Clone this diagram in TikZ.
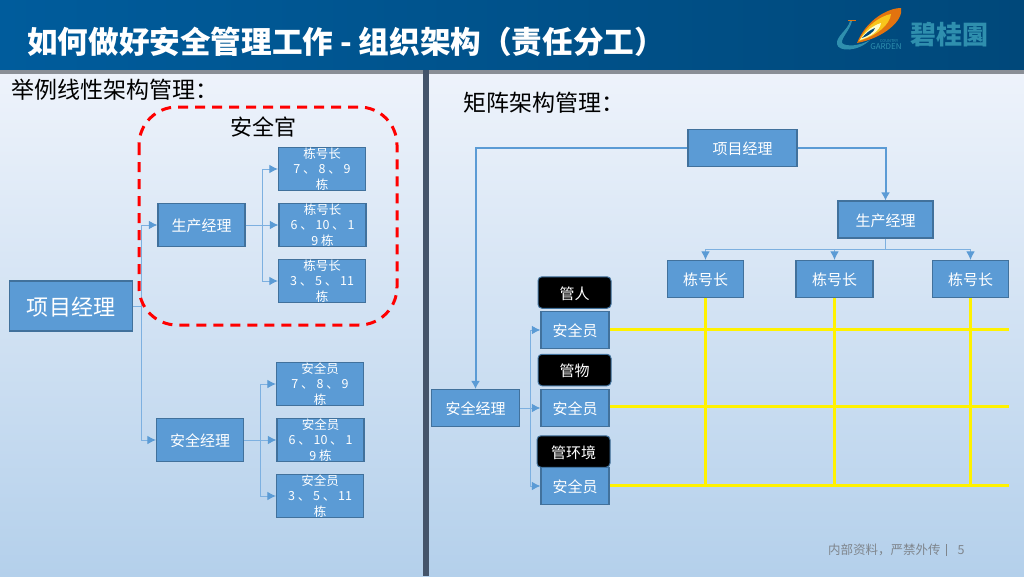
\documentclass[tikz,border=0pt]{standalone}
\usepackage{fontspec}
\usepackage{xcolor}
\setmainfont{Noto Sans CJK SC}
\usetikzlibrary{arrows.meta}
\definecolor{boxblue}{HTML}{5B9BD5}
\definecolor{boxedge}{HTML}{41719C}
\definecolor{thinblue}{HTML}{7DB0E0}
\definecolor{logoteal}{HTML}{2F8FAE}
\definecolor{bgtop}{HTML}{EEF3FB}
\definecolor{bgbottom}{HTML}{B4D0EB}
\definecolor{headleft}{HTML}{005C9C}
\definecolor{headright}{HTML}{00487A}
\definecolor{barcolor}{HTML}{8A8F96}
\definecolor{dividercolor}{HTML}{44546A}
\definecolor{flameorange}{HTML}{E2730F}
\definecolor{flameyellow}{HTML}{F8C51C}
\definecolor{footgray}{HTML}{7F858C}

\begin{document}
\begin{tikzpicture}[x=1pt, y=-1pt,
    box/.style={draw=boxedge, line width=1.1pt, fill=boxblue, text=white, inner sep=0pt, align=center, font=\fontsize{15}{18}\selectfont},
    smallbox/.style={box, minimum width=87pt, minimum height=43pt, font=\fontsize{12.5}{15.5}\selectfont},
    midbox/.style={box, minimum width=87pt, minimum height=43pt, text height=14.5pt},
    rbox/.style={box, minimum height=37pt, text height=14.5pt},
    blackbox/.style={draw=boxedge, line width=1pt, fill=black, text=white, rounded corners=4pt, minimum width=73pt, minimum height=31.5pt, inner sep=0pt, text height=14.5pt, font=\fontsize{15}{18}\selectfont},
    thinline/.style={draw=thinblue, line width=1pt},
    thinarrow/.style={thinline, -{Latex[length=8.5pt,width=8.5pt,color=boxblue]}},
    thickarrow/.style={draw=boxblue, line width=2pt, -{Latex[length=8pt,width=9pt]}},
    yellowline/.style={draw=yellow, line width=3.3pt},
    heading/.style={anchor=west, inner sep=0pt, font=\fontsize{23}{26}\selectfont}
]
\useasboundingbox (0,0) rectangle (1024,576);

% Background and header
\shade[top color=bgtop, bottom color=bgbottom] (0,72) rectangle (1024,576);
\shade[left color=headleft, right color=headright] (0,0) rectangle (1024,71);
\fill[barcolor] (0,70) rectangle (1024,74);
\fill[dividercolor] (423,70) rectangle (429,576);

% Title
\node[anchor=west, inner sep=0pt, text=white, font=\fontsize{30.6}{33}\selectfont\bfseries] (title) at (27,42) {如何做好安全管理工作 - 组织架构^^^^ff08责任分工^^^^ff09};

% Logo
\fill[flameorange] (857,43) .. controls (866,20) and (888,8) .. (901,8) .. controls (904,20) and (884,38) .. (857,43);
\fill[flameyellow] (859,41) .. controls (866,26) and (880,16) .. (891,14) .. controls (890,25) and (876,36) .. (859,41);
\fill[white!80!yellow] (860,40) .. controls (866,31) and (872,26) .. (881,23) .. controls (880,31) and (870,37) .. (860,40);
\fill[headright] (862,38) .. controls (866,33) and (870,30) .. (875,28) .. controls (874,32) and (868,36) .. (862,38);
\fill[logoteal] (850,21) .. controls (848,30) and (836,36) .. (837,44) .. controls (838,52) and (858,52) .. (870,40) .. controls (860,46) and (846,47) .. (842,43) .. controls (841,38) and (850,30) .. (852,21) -- cycle;
\fill[flameorange] (848,19.5) rectangle (856,21);
\node[inner sep=0pt, text=logoteal, font=\fontsize{4}{5}\selectfont] (logosmall) at (889,41) {COUNTRY};
\node[inner sep=0pt, text=logoteal, font=\fontsize{8}{9}\selectfont] (logoname) at (886,46.5) {GARDEN};
\node[inner sep=0pt, text=logoteal, font=\fontsize{26}{28}\selectfont\bfseries] (logotext) at (949,35) {碧桂園};

% Headings
\node[heading] (linearhead) at (11,90) {举例线性架构管理^^^^ff1a};
\node[heading] (matrixhead) at (463,103) {矩阵架构管理^^^^ff1a};

% Left part: boxes
\node[box, minimum width=123pt, minimum height=50pt, text height=21pt, font=\fontsize{22}{26}\selectfont] (PM) at (71,306) {项目经理};
\node[midbox] (PROD) at (201.5,225) {生产经理};
\node[midbox] (SAFE) at (200,440) {安全经理};

\node[smallbox] (B1) at (322,169) {栋号长\\7 、 8 、 9\\栋};
\node[smallbox] (B2) at (322.5,225) {栋号长\\6 、 10 、 1\\9 栋};
\node[smallbox] (B3) at (322,281) {栋号长\\3 、 5 、 11\\栋};

\node[smallbox] (S1) at (320,384) {安全员\\7 、 8 、 9\\栋};
\node[smallbox] (S2) at (320.5,440) {安全员\\6 、 10 、 1\\9 栋};
\node[smallbox] (S3) at (320,496) {安全员\\3 、 5 、 11\\栋};

% Left part: connectors
\coordinate (J0) at (141.5,306);
\coordinate (J1) at (262,225);
\coordinate (J2) at (260,440);
\draw[thinline] (PM.east |- J0) -- (J0);
\draw[thinarrow] (J0) |- (PROD.west);
\draw[thinarrow] (J0) |- (SAFE.west);
\draw[thinline] (PROD.east) -- (J1);
\draw[thinarrow] (J1) |- (B1.west);
\draw[thinarrow] (J1) -- (B2.west);
\draw[thinarrow] (J1) |- (B3.west);
\draw[thinline] (SAFE.east) -- (J2);
\draw[thinarrow] (J2) |- (S1.west);
\draw[thinarrow] (J2) -- (S2.west);
\draw[thinarrow] (J2) |- (S3.west);

% Red frame
\draw[red, line width=3pt, dash pattern=on 10pt off 7pt, rounded corners=38pt] (139,107) rectangle (397,325);
\node[inner sep=0pt, font=\fontsize{22}{24}\selectfont] (OFFICER) at (263,127) {安全官};

% Right part: boxes
\node[rbox, minimum width=109pt] (RPM) at (742.5,148) {项目经理};
\node[rbox, minimum width=95pt] (RPROD) at (885.5,219.5) {生产经理};
\node[rbox, minimum width=76pt] (L1) at (705.5,279) {栋号长};
\node[rbox, minimum width=77pt] (L2) at (834.5,279) {栋号长};
\node[rbox, minimum width=76pt] (L3) at (970.5,279) {栋号长};
\node[rbox, minimum width=88pt] (RSAFE) at (475.5,408) {安全经理};

\node[rbox, minimum width=68pt] (R1) at (575,330) {安全员};
\node[rbox, minimum width=68pt] (R2) at (575,408) {安全员};
\node[rbox, minimum width=68pt] (R3) at (575,486) {安全员};

\node[blackbox] (T1) at (574.5,292.5) {管人};
\node[blackbox] (T2) at (574.5,370) {管物};
\node[blackbox] (T3) at (573.5,451.5) {管环境};

% Right part: connectors
\coordinate (BUS) at (885.5,249.5);
\coordinate (J3) at (530,408);
\draw[thickarrow] (RPM.west) -| (RSAFE.north);
\draw[thickarrow] (RPM.east) -| (RPROD.north);
\draw[thinline] (RPROD.south) -- (BUS);
\draw[thinarrow] (BUS) -| (L1.north);
\draw[thinarrow] (BUS) -| (L2.north);
\draw[thinarrow] (BUS) -| (L3.north);
\draw[thinline] (RSAFE.east) -- (J3);
\draw[thinarrow] (J3) |- (R1.west);
\draw[thinarrow] (J3) -- (R2.west);
\draw[thinarrow] (J3) |- (R3.west);

% Yellow grid
\coordinate (E1) at (1009,329.5);
\coordinate (E2) at (1009,406.8);
\coordinate (E3) at (1009,485.8);
\draw[yellowline] (R1.east |- E1) -- (E1);
\draw[yellowline] (R2.east |- E2) -- (E2);
\draw[yellowline] (R3.east |- E3) -- (E3);
\draw[yellowline] (L1.south) -- (L1.south |- E3);
\draw[yellowline] (L2.south) -- (L2.south |- E3);
\draw[yellowline] (L3.south) -- (L3.south |- E3);

% Footer
\node[anchor=west, inner sep=0pt, text=footgray, font=\fontsize{12.5}{14}\selectfont] (footer) at (828,550) {内部资料^^^^ff0c严禁外传};
\draw[footgray, line width=0.7pt] (946,544) -- (946,556);
\node[inner sep=0pt, text=footgray, font=\fontsize{12.5}{14}\selectfont] (pagenum) at (961,550) {5};
\end{tikzpicture}
\end{document}
